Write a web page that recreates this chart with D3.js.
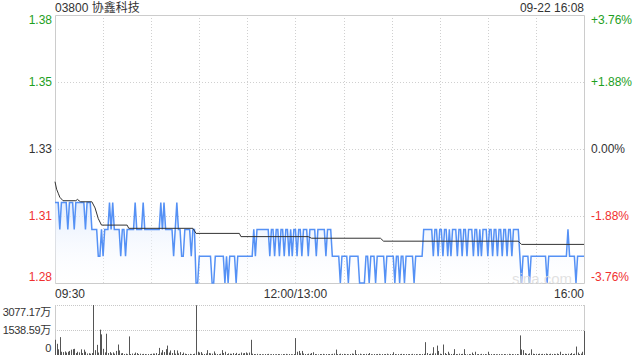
<!DOCTYPE html>
<html>
<head>
<meta charset="utf-8">
<script src="https://cdn.jsdelivr.net/npm/d3@7/dist/d3.min.js"></script>
<style>
  body { margin: 0; background: #fff; }
  svg text { font-family: "Liberation Sans", Arial, "Noto Sans CJK SC", sans-serif; font-size: 12px; }
</style>
</head>
<body>
<svg id="canvas" width="640" height="360"></svg>
<script>
// Configuration
const width = 640;
const height = 360;
const left = 55, right = 584;
const priceTop = 15, priceBottom = 283;
const volTop = 305, volBottom = 355;

const stockTitle = '03800 协鑫科技';
const stamp = '09-22 16:08';
const prevClose = 1.33;
const pctTicks = [3.76, 1.88, 0, -1.88, -3.76];
const priceLabels = ['1.38', '1.35', '1.33', '1.31', '1.28'];
const pctLabels = ['+3.76%', '+1.88%', '0.00%', '-1.88%', '-3.76%'];
const timeLabels = ['09:30', '12:00/13:00', '16:00'];
const timeLabelMinutes = [0, 150, 330];
const volMax = 3077.17;
const volLabels = ['3077.17万', '1538.59万', '0'];
const volLabelValues = [3077.17, 1538.59, 0];

// one value per minute, 09:30 .. 16:00 (lunch break removed)
const prices = [
  1.31,1.31,1.31,1.30,1.31,1.31,1.31,1.31,1.30,1.31,
  1.31,1.31,1.30,1.31,1.31,1.31,1.31,1.31,1.31,1.30,
  1.31,1.31,1.31,1.30,1.30,1.30,1.30,1.29,1.29,1.30,
  1.29,1.30,1.30,1.30,1.31,1.30,1.31,1.30,1.30,1.30,
  1.30,1.29,1.30,1.30,1.29,1.30,1.30,1.30,1.30,1.30,
  1.31,1.30,1.30,1.30,1.30,1.31,1.30,1.30,1.30,1.30,
  1.30,1.30,1.30,1.30,1.30,1.30,1.31,1.30,1.31,1.30,
  1.30,1.30,1.30,1.30,1.29,1.30,1.31,1.30,1.30,1.29,
  1.29,1.30,1.30,1.30,1.30,1.29,1.30,1.30,1.28,1.28,
  1.29,1.29,1.29,1.29,1.29,1.29,1.29,1.29,1.28,1.28,
  1.29,1.29,1.29,1.29,1.29,1.29,1.28,1.29,1.28,1.29,
  1.29,1.29,1.29,1.28,1.29,1.29,1.29,1.29,1.29,1.29,
  1.29,1.29,1.29,1.29,1.30,1.29,1.30,1.30,1.30,1.30,
  1.30,1.30,1.30,1.30,1.29,1.30,1.30,1.29,1.30,1.30,
  1.29,1.30,1.30,1.29,1.30,1.30,1.29,1.30,1.29,1.30,
  1.30,1.29,1.30,1.30,1.29,1.30,1.30,1.30,1.29,1.30,
  1.30,1.30,1.30,1.29,1.30,1.30,1.30,1.30,1.30,1.29,
  1.30,1.30,1.30,1.29,1.29,1.29,1.29,1.29,1.28,1.29,
  1.29,1.29,1.29,1.28,1.29,1.29,1.29,1.29,1.29,1.29,
  1.28,1.28,1.28,1.28,1.29,1.29,1.28,1.29,1.29,1.29,
  1.28,1.29,1.29,1.29,1.29,1.29,1.28,1.29,1.29,1.29,
  1.29,1.29,1.28,1.29,1.29,1.28,1.29,1.29,1.28,1.29,
  1.29,1.29,1.29,1.29,1.28,1.29,1.29,1.29,1.29,1.29,
  1.30,1.30,1.30,1.30,1.30,1.30,1.29,1.30,1.30,1.29,
  1.30,1.30,1.29,1.30,1.30,1.29,1.30,1.29,1.30,1.30,
  1.30,1.29,1.30,1.30,1.29,1.30,1.30,1.29,1.30,1.30,
  1.30,1.29,1.30,1.30,1.29,1.30,1.29,1.30,1.30,1.30,
  1.29,1.30,1.30,1.29,1.30,1.30,1.29,1.30,1.30,1.29,
  1.30,1.30,1.29,1.30,1.30,1.29,1.30,1.30,1.30,1.30,
  1.29,1.28,1.29,1.29,1.29,1.29,1.28,1.29,1.29,1.29,
  1.29,1.29,1.29,1.29,1.29,1.29,1.29,1.28,1.29,1.29,
  1.29,1.29,1.29,1.29,1.29,1.29,1.29,1.29,1.29,1.29,
  1.30,1.29,1.29,1.29,1.29,1.28,1.29,1.29,1.29,1.29,
  1.29
];

// average price line, read at its break points
const avgMinutes = [0, 1, 2, 3, 5, 13, 14, 15, 16, 23, 25, 27, 29, 45, 46, 86, 88, 115, 116, 158, 160, 203, 205, 289, 291, 330];
const avgPrices = [1.3178, 1.315, 1.3135, 1.312, 1.3107, 1.3107, 1.3112, 1.3107, 1.3103, 1.3103, 1.308, 1.304, 1.3016, 1.3016, 1.3004, 1.3004, 1.2985, 1.2985, 1.2973, 1.2973, 1.2967, 1.2967, 1.2956, 1.2956, 1.2944, 1.2944];

// volume per minute, in 万
const volumes = [
  936,690,350,1100,200,180,220,150,200,250,
  330,360,380,120,200,160,350,120,330,200,
  90,110,80,120,3077,300,625,150,1560,1270,
  380,160,1310,120,180,100,160,80,250,645,
  280,100,120,60,80,50,1144,60,90,70,
  150,120,60,80,50,70,60,40,60,50,
  70,90,80,120,60,437,150,300,180,360,
  580,150,280,120,300,80,280,100,180,60,
  150,80,60,50,70,40,60,80,3060,200,
  150,180,80,60,90,300,120,100,80,220,
  90,60,50,80,300,120,200,60,100,80,
  70,120,60,130,60,80,150,100,120,160,
  100,150,936,80,60,50,70,40,60,50,
  40,60,50,70,40,50,60,40,50,60,
  50,40,60,50,70,40,60,50,40,60,
  1040,200,250,100,250,90,60,50,80,70,
  120,170,60,50,40,60,50,70,40,60,
  50,60,40,70,90,333,60,50,80,60,
  70,50,60,40,60,90,70,300,60,50,
  80,40,60,50,70,60,120,50,40,60,
  50,60,70,40,60,50,60,80,40,60,
  50,170,60,40,60,50,70,60,40,60,
  50,60,40,70,50,60,40,60,50,60,
  70,790,120,60,80,90,480,100,580,250,
  80,60,645,120,60,200,80,60,70,360,
  60,50,80,60,70,360,60,40,60,50,
  150,60,200,50,60,40,70,50,60,40,
  200,50,60,40,60,50,40,60,50,40,
  60,50,40,70,50,60,40,50,60,40,
  1206,340,300,120,80,60,100,350,80,60,
  70,60,80,50,70,60,90,60,50,80,
  60,70,50,90,60,200,60,50,70,60,
  80,60,120,60,80,520,150,60,90,200,
  1477
];

const green = '#1ea01e';
const red = '#f03030';
const dark = '#333';
const colorFor = v => v > 0 ? green : (v < 0 ? red : dark);

const canvas = d3.select('#canvas');

const x = d3.scaleLinear().domain([0, 330]).range([left, right]);
const yPct = d3.scaleLinear().domain([-3.76, 3.76]).range([priceBottom, priceTop]);
const yPrice = d3.scaleLinear()
    .domain([prevClose * (1 - 0.0376), prevClose * (1 + 0.0376)])
    .range([priceBottom, priceTop]);
const yVol = d3.scaleLinear().domain([0, volMax]).range([volBottom, volTop]);

// gradient for area
const defs = canvas.append('defs');
const grad = defs.append('linearGradient')
    .attr('id', 'areaFill').attr('x1', 0).attr('y1', 0).attr('x2', 0).attr('y2', 1);
grad.append('stop').attr('offset', '0%').attr('stop-color', '#dde9fd').attr('stop-opacity', 0.8);
grad.append('stop').attr('offset', '100%').attr('stop-color', '#ffffff').attr('stop-opacity', 0.2);

// title
canvas.append('text').attr('x', left).attr('y', 12).attr('fill', dark).text(stockTitle);
canvas.append('text').attr('x', right).attr('y', 12).attr('text-anchor', 'end').attr('fill', dark).text(stamp);

// vertical dotted grid
const gridMinutes = d3.range(30, 330, 30);
canvas.append('g').selectAll('line')
    .data(gridMinutes)
    .join('line')
    .attr('x1', d => Math.round(x(d)) + 0.5).attr('x2', d => Math.round(x(d)) + 0.5)
    .attr('y1', priceTop).attr('y2', priceBottom)
    .attr('stroke', '#d0d0d0').attr('stroke-dasharray', '1,2');

// horizontal dotted grid
canvas.append('g').selectAll('line')
    .data(pctTicks.slice(1, 4))
    .join('line')
    .attr('x1', left).attr('x2', right)
    .attr('y1', d => Math.round(yPct(d)) + 0.5).attr('y2', d => Math.round(yPct(d)) + 0.5)
    .attr('stroke', '#d0d0d0').attr('stroke-dasharray', '1,2');

// border
canvas.append('path')
    .attr('d', `M${left + 0.5},${priceBottom + 0.5}V${priceTop + 0.5}H${right + 0.5}V${priceBottom + 0.5}H${left + 0.5}`)
    .attr('fill', 'none').attr('stroke', '#ccc');

// area + price line
const area = d3.area()
    .x((d, i) => x(i))
    .y0(priceBottom)
    .y1(d => yPrice(d));
canvas.append('path').datum(prices).attr('d', area).attr('fill', 'url(#areaFill)');

const line = d3.line().x((d, i) => x(i)).y(d => yPrice(d));
canvas.append('path').datum(prices).attr('d', line)
    .attr('fill', 'none').attr('stroke', '#5591f5').attr('stroke-width', 1.5);

// average line
const avgLine = d3.line().x(d => x(d[0])).y(d => yPrice(d[1]));
canvas.append('path').datum(d3.zip(avgMinutes, avgPrices)).attr('d', avgLine)
    .attr('fill', 'none').attr('stroke', '#333').attr('stroke-width', 1);

// watermark
canvas.append('text').attr('x', 572).attr('y', 284).attr('text-anchor', 'end')
    .attr('fill', '#dcdcdc').attr('fill-opacity', 0.85).style('font-size', '15px').text('sina.com');

// price labels
pctTicks.forEach((p, i) => {
    let yy = yPct(p);
    if (i === 0) yy += 5;
    if (i === pctTicks.length - 1) yy -= 6;
    canvas.append('text').attr('x', 52).attr('y', yy).attr('dy', '0.35em')
        .attr('text-anchor', 'end').attr('fill', colorFor(p)).text(priceLabels[i]);
    canvas.append('text').attr('x', 591).attr('y', yy).attr('dy', '0.35em')
        .attr('fill', colorFor(p)).text(pctLabels[i]);
});

// time labels
timeLabels.forEach((t, i) => {
    const anchor = i === 0 ? 'start' : (i === timeLabels.length - 1 ? 'end' : 'middle');
    canvas.append('text').attr('x', x(timeLabelMinutes[i])).attr('y', 298)
        .attr('text-anchor', anchor).attr('fill', dark).text(t);
});

// volume panel
canvas.append('g').selectAll('line')
    .data(volLabelValues.slice(0, 2))
    .join('line')
    .attr('x1', left).attr('x2', right)
    .attr('y1', d => Math.round(yVol(d)) + 0.5).attr('y2', d => Math.round(yVol(d)) + 0.5)
    .attr('stroke', '#c8c8c8').attr('stroke-dasharray', '1,1');
canvas.append('line').attr('x1', left + 0.5).attr('x2', left + 0.5).attr('y1', volTop).attr('y2', volBottom).attr('stroke', '#ccc');
canvas.append('line').attr('x1', right + 0.5).attr('x2', right + 0.5).attr('y1', volTop).attr('y2', volBottom).attr('stroke', '#ccc');

canvas.append('g').selectAll('rect')
    .data(volumes)
    .join('rect')
    .attr('x', (d, i) => Math.round(x(i)))
    .attr('width', 1)
    .attr('y', d => yVol(d))
    .attr('height', d => volBottom - yVol(d))
    .attr('fill', '#555');

volLabels.forEach((t, i) => {
    let yy = yVol(volLabelValues[i]);
    if (i === 0) yy += 7;
    if (i === volLabels.length - 1) yy -= 7;
    canvas.append('text').attr('x', 51).attr('y', yy).attr('dy', '0.35em')
        .attr('text-anchor', 'end').attr('fill', dark)
        .style('font-size', '11px').style('letter-spacing', '-0.3px').text(t);
});
</script>
</body>
</html>
